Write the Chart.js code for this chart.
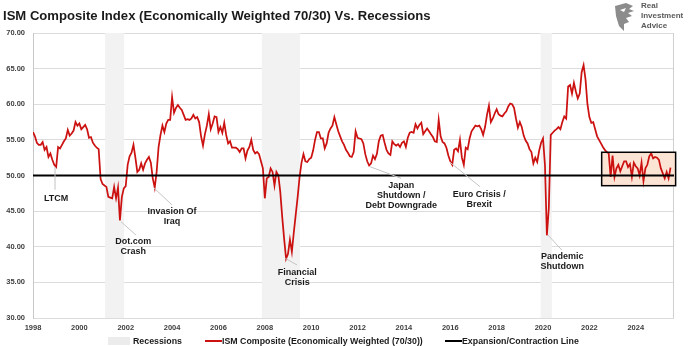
<!DOCTYPE html>
<html lang="en">
<head>
<meta charset="UTF-8">
<title>ISM Composite Index vs Recessions</title>
<script src="https://cdn.jsdelivr.net/npm/chart.js"></script>
<style>
  body { margin: 0; background: #fff; font-family: "Liberation Sans", Arial, sans-serif; }
  .wrap { position: relative; width: 690px; height: 346px; overflow: hidden; }
  .title { position: absolute; left: 3px; top: 9px; font-weight: bold; font-size: 13.1px; line-height: 13px; color: #1a1a1a; white-space: nowrap; }
  .logo-text { position: absolute; left: 641px; top: 1px; font-weight: bold; font-size: 8px; line-height: 10px; color: #5a5a5a; }
  .logo-icon { position: absolute; left: 612px; top: 2px; }
  .legend { position: absolute; top: 336px; left: 0; font-weight: bold; font-size: 8.8px; line-height: 10px; color: #1a1a1a; }
  .legend span { position: absolute; white-space: nowrap; }
  .swatch { position: absolute; }
</style>
</head>
<body>
<div class="wrap">
  <canvas id="chart" width="690" height="346"></canvas>
  <div class="title">ISM Composite Index (Economically Weighted 70/30) Vs. Recessions</div>
  <svg class="logo-icon" width="24" height="30" viewBox="0 0 24 30">
    <path d="M3 4 L14 1 L21 4 L17 7 L22 9 L16 11 L20 14 L14 16 L17 20 L12 22 L12 29 L7 24 L4 14 Z" fill="#8c8c8c"/>
    <path d="M8 8 L14 6 L12 10 Z" fill="#fff"/>
  </svg>
  <div class="logo-text">Real<br>Investment<br>Advice</div>
  <div class="legend">
    <div class="swatch" style="left:108px; top:1px; width:22px; height:8px; background:#ececec;"></div>
    <span style="left:133px; top:0;">Recessions</span>
    <div class="swatch" style="left:205px; top:4px; width:17px; height:2px; background:#cc1111;"></div>
    <span style="left:222px; top:0;">ISM Composite (Economically Weighted (70/30))</span>
    <div class="swatch" style="left:445px; top:4px; width:17px; height:2px; background:#000;"></div>
    <span style="left:462px; top:0;">Expansion/Contraction Line</span>
  </div>
</div>
<script>
// monthly ISM composite (70/30), Jan 1998 onwards
const startYear = 1998;
const ismValues = [
  56.1, 55.5, 54.6, 54.3, 54.3, 54.7, 53.6, 54.0, 52.6, 53.1, 52.2, 51.5, // 1998
  51.2, 54.0, 53.8, 54.3, 54.8, 55.2, 56.4, 55.6, 55.9, 56.3, 57.5, 57.0, // 1999
  57.3, 56.5, 56.8, 57.1, 56.5, 55.3, 55.4, 54.6, 54.2, 53.9, 53.7, 49.5, // 2000
  48.8, 48.6, 48.4, 47.0, 46.9, 46.8, 48.4, 46.8, 48.3, 43.7, 47.0, 48.2, // 2001
  48.5, 51.5, 52.7, 53.2, 54.3, 52.5, 50.5, 50.8, 51.7, 50.8, 51.7, 52.2, // 2002
  52.6, 51.8, 49.6, 48.3, 50.5, 54.0, 55.7, 57.0, 56.1, 57.3, 57.8, 57.8, // 2003
  61.0, 58.8, 59.5, 59.9, 59.5, 59.2, 58.5, 57.8, 57.9, 57.8, 58.0, 58.5, // 2004
  58.0, 58.2, 57.5, 55.5, 54.2, 55.8, 57.0, 58.6, 56.5, 57.3, 58.3, 58.2, // 2005
  56.1, 56.8, 56.0, 57.4, 55.7, 54.5, 54.8, 53.9, 53.9, 53.9, 53.7, 53.3, // 2006
  53.8, 53.8, 52.4, 53.5, 54.0, 55.0, 53.6, 53.1, 53.3, 53.0, 52.0, 51.0, // 2007
  46.8, 49.6, 49.8, 51.0, 50.5, 48.6, 50.5, 50.0, 47.7, 44.2, 41.1, 38.3, // 2008
  39.0, 41.0, 39.3, 42.0, 44.5, 47.0, 49.8, 51.8, 53.0, 52.0, 51.9, 52.3, // 2009
  52.5, 53.5, 55.0, 56.1, 56.1, 55.2, 55.2, 53.8, 54.5, 56.0, 56.6, 57.0, // 2010
  58.2, 57.2, 56.2, 55.5, 54.8, 54.3, 53.6, 53.2, 52.7, 52.6, 53.3, 56.2, // 2011
  55.3, 55.2, 55.1, 54.5, 53.0, 52.0, 51.4, 51.7, 52.8, 52.3, 53.0, 54.8, // 2012
  55.6, 55.7, 54.6, 53.6, 53.1, 52.9, 54.8, 54.4, 54.2, 54.4, 54.0, 54.6, // 2013
  54.8, 54.0, 55.3, 56.0, 56.1, 56.0, 57.2, 56.6, 57.1, 57.4, 55.8, 56.2, // 2014
  56.6, 56.2, 55.8, 55.4, 54.8, 54.7, 57.8, 55.5, 54.7, 54.5, 53.9, 52.8, // 2015
  52.0, 51.5, 53.6, 53.8, 53.4, 55.0, 52.5, 51.5, 53.9, 53.7, 55.2, 56.2, // 2016
  56.6, 57.0, 56.9, 57.0, 56.5, 55.7, 56.8, 58.5, 59.8, 57.5, 58.0, 58.7, // 2017
  59.3, 58.6, 58.4, 58.3, 58.7, 59.0, 59.7, 60.1, 60.0, 59.5, 58.0, 56.7, // 2018
  57.5, 56.8, 55.6, 54.9, 54.5, 53.7, 53.3, 51.7, 52.5, 51.9, 53.5, 54.6, // 2019
  55.2, 51.5, 41.6, 45.4, 55.7, 56.0, 56.3, 56.5, 56.8, 56.5, 57.5, 58.3, // 2020
  58.0, 62.5, 62.7, 61.5, 63.0, 61.8, 60.8, 61.5, 64.5, 65.5, 63.5, 60.0, // 2021
  58.2, 57.4, 57.5, 56.5, 55.5, 55.0, 54.5, 54.0, 53.6, 53.3, 53.1, 49.8, // 2022
  52.8, 49.8, 51.0, 51.5, 50.6, 51.3, 52.0, 52.0, 51.2, 51.6, 49.8, 51.8, // 2023
  51.3, 51.0, 50.0, 51.8, 49.2, 51.0, 51.5, 52.7, 53.1, 52.4, 52.6, 52.5, // 2024
  52.2, 51.0, 50.3, 49.6, 50.5, 49.6, 51.1                                // 2025
];
const contractionLevel = 50;

// recession periods (decimal years)
const recessionStart = [2001.11, 2007.87, 2019.90];
const recessionEnd   = [2001.93, 2009.52, 2020.38];

// highlighted recent range
const boxStart = 2022.53, boxEnd = 2025.72, boxLow = 48.57, boxHigh = 53.26;

// axis range
const xMin = 1998, xMax = 2025.65, xStep = 2;
const yMin = 30, yMax = 70, yStep = 5;

// event labels: leader line from [x1,y1] to [x2,y2], text centred at tx, first line at ty
const events = [
  { lines: ['LTCM'], x1: 1998.95, y1: 51.2, x2: 1998.95, y2: 48.0, tx: 1999.0, ty: 46.8 },
  { lines: ['Dot.com', 'Crash'], x1: 2001.8, y1: 43.5, x2: 2002.44, y2: 41.65, tx: 2002.32, ty: 40.67 },
  { lines: ['Invasion Of', 'Iraq'], x1: 2003.22, y1: 48.25, x2: 2004.0, y2: 45.86, tx: 2004.0, ty: 44.88 },
  { lines: ['Financial', 'Crisis'], x1: 2008.88, y1: 38.38, x2: 2009.39, y2: 37.44, tx: 2009.4, ty: 36.32 },
  { lines: ['Japan', 'Shutdown /', 'Debt Downgrade'], x1: 2012.54, y1: 51.23, x2: 2013.88, y2: 49.6, tx: 2013.88, ty: 48.53 },
  { lines: ['Euro Crisis /', 'Brexit'], x1: 2015.99, y1: 51.85, x2: 2017.28, y2: 48.43, tx: 2017.25, ty: 47.4 },
  { lines: ['Pandemic', 'Shutdown'], x1: 2020.21, y1: 41.65, x2: 2020.81, y2: 39.54, tx: 2020.83, ty: 38.56 }
];

const ismPoints = ismValues.map((v, i) => ({ x: startYear + i / 12, y: v }));
const linePoints = [{ x: xMin, y: contractionLevel }, { x: xMax, y: contractionLevel }];

const overlays = {
  id: 'overlays',
  beforeDatasetsDraw(chart) {
    const { ctx, chartArea: a, scales: { x, y } } = chart;
    ctx.save();
    ctx.fillStyle = '#f2f2f2';
    recessionStart.forEach((s, i) => {
      const x0 = x.getPixelForValue(s), x1 = x.getPixelForValue(recessionEnd[i]);
      ctx.fillRect(x0, a.top, x1 - x0, a.bottom - a.top);
    });
    // right frame
    ctx.strokeStyle = '#d0d0d0';
    ctx.lineWidth = 1;
    ctx.beginPath();
    ctx.moveTo(Math.round(a.right) - 0.5, a.top);
    ctx.lineTo(Math.round(a.right) - 0.5, a.bottom);
    ctx.stroke();
    // box fill
    const bx0 = x.getPixelForValue(boxStart), bx1 = x.getPixelForValue(boxEnd);
    const by0 = y.getPixelForValue(boxHigh), by1 = y.getPixelForValue(boxLow);
    ctx.fillStyle = '#fce4d4';
    ctx.fillRect(bx0, by0, bx1 - bx0, by1 - by0);
    ctx.restore();
  },
  afterDatasetsDraw(chart) {
    const { ctx, scales: { x, y } } = chart;
    ctx.save();
    const bx0 = x.getPixelForValue(boxStart), bx1 = x.getPixelForValue(boxEnd);
    const by0 = y.getPixelForValue(boxHigh), by1 = y.getPixelForValue(boxLow);
    ctx.strokeStyle = '#000';
    ctx.lineWidth = 1.5;
    ctx.strokeRect(bx0, by0, bx1 - bx0, by1 - by0);

    ctx.font = 'bold 9px "Liberation Sans", Arial, sans-serif';
    ctx.textAlign = 'center';
    ctx.textBaseline = 'middle';
    events.forEach(ev => {
      ctx.strokeStyle = '#c4c4c4';
      ctx.lineWidth = 1;
      ctx.beginPath();
      ctx.moveTo(x.getPixelForValue(ev.x1), y.getPixelForValue(ev.y1));
      ctx.lineTo(x.getPixelForValue(ev.x2), y.getPixelForValue(ev.y2));
      ctx.stroke();
      ctx.fillStyle = '#1a1a1a';
      const tx = x.getPixelForValue(ev.tx), ty = y.getPixelForValue(ev.ty);
      ev.lines.forEach((t, k) => ctx.fillText(t, tx, ty + k * 10));
    });
    ctx.restore();
  }
};

new Chart(document.getElementById('chart'), {
  type: 'line',
  data: {
    datasets: [
      {
        label: 'Expansion/Contraction Line',
        data: linePoints,
        borderColor: '#000',
        borderWidth: 2,
        pointRadius: 0
      },
      {
        label: 'ISM Composite (Economically Weighted (70/30))',
        data: ismPoints,
        borderColor: '#cc1111',
        borderWidth: 1.75,
        pointRadius: 0,
        tension: 0
      }
    ]
  },
  options: {
    responsive: false,
    animation: false,
    layout: { padding: { top: 33, right: 16, left: 0, bottom: 0 } },
    plugins: { legend: { display: false }, tooltip: { enabled: false } },
    scales: {
      x: {
        type: 'linear',
        min: xMin,
        max: xMax,
        afterFit(scale) { scale.height = 28; },
        grid: { display: false, drawTicks: false },
        border: { display: false },
        ticks: {
          stepSize: xStep,
          includeBounds: false,
          padding: 5,
          maxRotation: 0,
          color: '#404040',
          font: { family: '"Liberation Sans", Arial, sans-serif', size: 7.5, weight: 'bold' },
          callback: v => String(v)
        }
      },
      y: {
        min: yMin,
        max: yMax,
        afterFit(scale) { scale.width = 33; },
        grid: { color: '#dcdcdc', drawTicks: false },
        border: { color: '#c8c8c8' },
        ticks: {
          stepSize: yStep,
          padding: 8,
          color: '#404040',
          font: { family: '"Liberation Sans", Arial, sans-serif', size: 7.5, weight: 'bold' },
          callback: v => v.toFixed(2)
        }
      }
    }
  },
  plugins: [overlays]
});
</script>
</body>
</html>
